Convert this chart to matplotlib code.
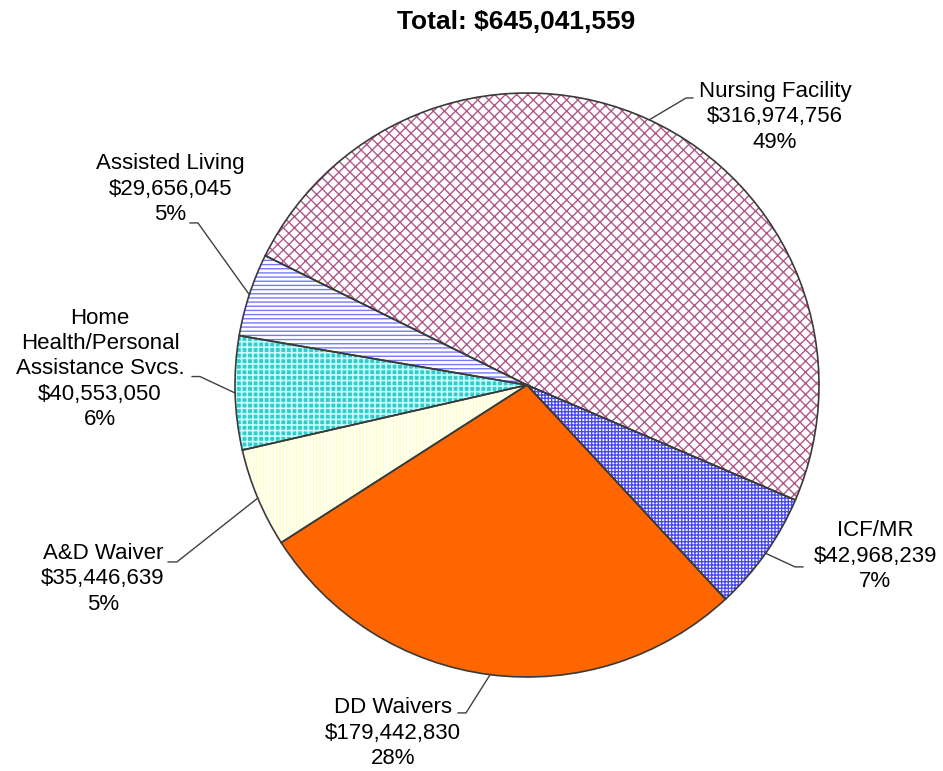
import matplotlib
matplotlib.use("Agg")
import matplotlib.pyplot as plt
import numpy as np

plt.rcParams['font.family'] = ['Liberation Sans', 'DejaVu Sans']

categories = ["Nursing Facility", "Assisted Living", "Home\nHealth/Personal\nAssistance Svcs.",
              "A&D Waiver", "DD Waivers", "ICF/MR"]
values = [316974756, 29656045, 40553050, 35446639, 179442830, 42968239]
title_text = "Total: $645,041,559"

face_colors = ['#ffffff', '#ffffff', '#33cccc', '#ffffcc', '#ff6600', '#ffffff']
hatch_colors = ['#b05888', '#7777ff', '#c8ffff', '#ffffff', '#ff6600', '#4a4af5']
hatches = ['xxx', '----', '+++', '|||||', '', '+++++']
hatch_lw = [1.0, 1.0, 1.2, 1.2, 1.0, 1.0]

# label layout (axes data coords): text center, elbow, tail end
text_pos = [(0.849, 0.918), (-1.221, 0.671), (-1.462, 0.055),
            (-1.452, -0.664), (-0.459, -1.192), (1.192, -0.586)]
elbows = [(0.545, 0.983), (-1.127, 0.555), (-1.120, 0.029),
          (-1.199, -0.606), (-0.209, -1.123), (0.918, -0.623)]
tails = [(0.568, 0.983), (-1.154, 0.555), (-1.147, 0.029),
         (-1.229, -0.606), (-0.236, -1.123), (0.945, -0.623)]

start_angle = -23.2

fig = plt.figure(figsize=(9.43, 7.71), dpi=100)
ax = fig.add_axes([0.2492, 0.1219, 0.6193, 0.7575])

wedges, _ = ax.pie(values, startangle=start_angle, counterclock=True,
                   colors=face_colors, radius=1.0,
                   wedgeprops=dict(linewidth=0))
for w, h, hc, lw in zip(wedges, hatches, hatch_colors, hatch_lw):
    w.set_edgecolor(hc)
    w.set_linewidth(0)
    if h:
        w.set_hatch(h)
    if hasattr(w, 'set_hatch_linewidth'):
        w.set_hatch_linewidth(lw)

ax.pie(values, startangle=start_angle, counterclock=True, radius=1.0,
       wedgeprops=dict(facecolor='none', edgecolor='#3a3a3a', linewidth=1.2))

ax.set_xlim(-1, 1)
ax.set_ylim(-1, 1)
ax.set_aspect('equal')
ax.axis('off')

total = sum(values)
for w, cat, v, tp, el, tl in zip(wedges, categories, values, text_pos, elbows, tails):
    mid = np.deg2rad((w.theta1 + w.theta2) / 2)
    px, py = np.cos(mid), np.sin(mid)
    ax.plot([px, el[0], tl[0]], [py, el[1], tl[1]], color='#404040', lw=1.0,
            clip_on=False, solid_joinstyle='miter')
    label = f"{cat}\n${v:,.0f}\n{v / total * 100:.0f}%"
    ax.text(tp[0], tp[1], label, ha='center', va='center', fontsize=16,
            linespacing=1.27, clip_on=False)

fig.text(516 / 943, 1 - 22 / 771, title_text, ha='center', va='center',
         fontsize=19, fontweight='bold')

fig.savefig('out.png', dpi=100)
